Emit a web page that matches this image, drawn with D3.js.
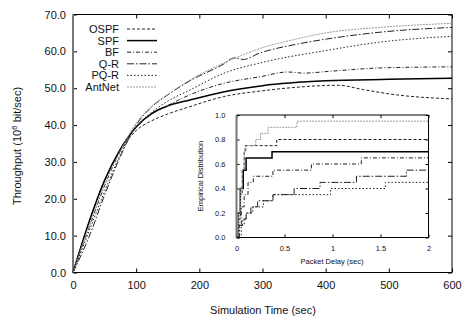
<!DOCTYPE html>
<html>
<head>
<meta charset="utf-8">
<script src="https://cdn.jsdelivr.net/npm/d3@7"></script>
<style>
  body { margin: 0; background: #fff; }
  text { font-family: "Liberation Sans", Arial, sans-serif; fill: #111; }
</style>
</head>
<body>
<svg id="chart"></svg>
<script>
// throughput curves, [time (sec), throughput (10^6 bit/sec)]
var ospf = [[0,0],[25,13.5],[50,25],[75,33],[100,38.5],[125,41.2],[150,43],[185,45],[238,47.7],[300,49.3],[350,50.2],[420,50.8],[460,49.6],[512,48.2],[600,47.1]];
var spf = [[0,0],[25,13.5],[50,25],[75,33.5],[100,39.5],[125,43.2],[150,45.2],[185,46.8],[238,49],[300,50.7],[400,52],[500,52.4],[600,52.7]];
var bf = [[0,0],[25,12],[50,23.5],[75,33],[100,39.5],[125,43],[150,45.3],[185,48.2],[238,51.3],[296,53.1],[340,54.4],[365,54.1],[407,54.6],[486,55.5],[600,55.8]];
var qr = [[0,0],[25,9.5],[50,21],[75,31.5],[100,40],[125,45],[150,48.2],[185,52],[238,56.5],[255,58.2],[270,57.8],[295,59.5],[350,61.8],[400,63.3],[486,65.2],[600,66.5]];
var pqr = [[0,0],[25,11],[50,22],[75,32],[100,39.5],[125,43.5],[150,46.5],[185,49.5],[238,54],[300,57],[400,60.2],[486,62.5],[600,64.1]];
var antnet = [[0,0],[25,12.5],[50,24],[75,33],[100,40.5],[125,45.2],[150,48.3],[185,52.2],[238,56.8],[300,61],[350,63.2],[400,65],[486,66.5],[600,67.6]];

// inset: empirical distribution of packet delay, [delay (sec), probability]
var cdfOSPF = [[0,0],[0.02,0.15],[0.04,0.35],[0.06,0.55],[0.08,0.7],[0.09,0.75],[0.42,0.8],[2,0.8]];
var cdfSPF = [[0,0],[0.02,0.2],[0.04,0.4],[0.07,0.55],[0.1,0.65],[0.37,0.7],[2,0.7]];
var cdfBF = [[0,0],[0.02,0.1],[0.05,0.25],[0.08,0.35],[0.12,0.45],[0.175,0.5],[0.38,0.55],[0.78,0.6],[1.3,0.65],[2,0.65]];
var cdfQR = [[0,0],[0.03,0.1],[0.06,0.15],[0.1,0.2],[0.15,0.25],[0.22,0.3],[0.38,0.35],[0.6,0.4],[0.87,0.45],[1.25,0.5],[1.77,0.55],[2,0.55]];
var cdfPQR = [[0,0],[0.05,0.1],[0.08,0.15],[0.1,0.2],[0.17,0.25],[0.28,0.3],[0.38,0.35],[0.98,0.4],[1.55,0.45],[2,0.45]];
var cdfAntNet = [[0,0],[0.02,0.2],[0.04,0.4],[0.06,0.55],[0.08,0.7],[0.1,0.75],[0.2,0.8],[0.25,0.85],[0.33,0.9],[0.63,0.95],[2,0.95]];

var names = ["OSPF", "SPF", "BF", "Q-R", "PQ-R", "AntNet"];
var xTicks = [0, 100, 200, 300, 400, 500, 600];
var yTicks = [0, 10, 20, 30, 40, 50, 60, 70];
var insetXTicks = [0, 0.5, 1, 1.5, 2];
var insetYTicks = [0, 0.2, 0.4, 0.6, 0.8, 1.0];

var series = [ospf, spf, bf, qr, pqr, antnet];
var cdfs = [cdfOSPF, cdfSPF, cdfBF, cdfQR, cdfPQR, cdfAntNet];

// line looks, same order as names
var styles = [
  {color: "#222", width: 1, dash: "3,2"},
  {color: "#000", width: 1.5, dash: null},
  {color: "#222", width: 1, dash: "4,2,1,2"},
  {color: "#222", width: 1, dash: "7,2,1.5,2"},
  {color: "#222", width: 1, dash: "1.5,2"},
  {color: "#9a9a9a", width: 1, dash: "2,1"}
];

var svgWidth = 464, svgHeight = 322;
var svg = d3.select("#chart")
    .attr("width", svgWidth)
    .attr("height", svgHeight);

var plotL = 73, plotR = 452, plotT = 14.5, plotB = 272.5;

var x = d3.scaleLinear().domain([0, 600]).range([plotL, plotR]);
var y = d3.scaleLinear().domain([0, 70]).range([plotB, plotT]);

function tickAxis(g) {
  g.select(".domain").remove();
  g.selectAll(".tick line").attr("stroke", "#000");
  g.selectAll(".tick text").style("font-size", "11px").attr("fill", "#111");
}

svg.append("g")
    .attr("transform", "translate(0," + plotB + ")")
    .call(d3.axisBottom(x).tickValues(xTicks).tickSize(-4).tickPadding(9))
    .call(tickAxis);
svg.append("g")
    .attr("transform", "translate(0," + plotT + ")")
    .call(d3.axisTop(x).tickValues(xTicks).tickSize(-4).tickFormat(""))
    .call(tickAxis);
svg.append("g")
    .attr("transform", "translate(" + plotL + ",0)")
    .call(d3.axisLeft(y).tickValues(yTicks).tickSize(-4).tickPadding(7).tickFormat(d3.format(".1f")))
    .call(tickAxis);
svg.append("g")
    .attr("transform", "translate(" + plotR + ",0)")
    .call(d3.axisRight(y).tickValues(yTicks).tickSize(-4).tickFormat(""))
    .call(tickAxis);

// frame
svg.append("path")
    .attr("d", "M" + plotL + "," + plotB + "H" + plotR + "V" + plotT + "H" + plotL)
    .attr("fill", "none").attr("stroke", "#000").attr("stroke-width", 1);
svg.append("line")
    .attr("x1", plotL).attr("x2", plotL).attr("y1", plotT).attr("y2", plotB)
    .attr("stroke", "#777").attr("stroke-width", 2);

var line = d3.line()
    .x(function(d) { return x(d[0]); })
    .y(function(d) { return y(d[1]); })
    .curve(d3.curveMonotoneX);

series.forEach(function(s, i) {
  svg.append("path")
      .datum(s)
      .attr("d", line)
      .attr("fill", "none")
      .attr("stroke", styles[i].color)
      .attr("stroke-width", styles[i].width)
      .attr("stroke-dasharray", styles[i].dash);
});

// legend
names.forEach(function(n, i) {
  var ly = 29 + i * 11.6;
  svg.append("text").text(n)
      .attr("x", 119).attr("y", ly + 4)
      .attr("text-anchor", "end")
      .style("font-size", "11px");
  svg.append("line")
      .attr("x1", 127).attr("x2", 157).attr("y1", ly).attr("y2", ly)
      .attr("stroke", styles[i].color)
      .attr("stroke-width", styles[i].width)
      .attr("stroke-dasharray", styles[i].dash);
});

// axis titles
svg.append("text").text("Simulation Time (sec)")
    .attr("x", 263).attr("y", 314)
    .attr("text-anchor", "middle")
    .style("font-size", "11px");

var yt = svg.append("text")
    .attr("transform", "translate(21,146)rotate(-90)")
    .attr("text-anchor", "middle")
    .style("font-size", "11px");
yt.append("tspan").text("Throughput (10");
yt.append("tspan").text("6").attr("dy", -4).style("font-size", "8px");
yt.append("tspan").text(" bit/sec)").attr("dy", 4);

// inset
var il = 236.5, ir = 428.5, it = 115, ib = 237.5;
var ix = d3.scaleLinear().domain([0, 2]).range([il, ir]);
var iy = d3.scaleLinear().domain([0, 1]).range([ib, it]);

svg.append("rect")
    .attr("x", il).attr("y", it).attr("width", ir - il).attr("height", ib - it)
    .attr("fill", "#fff");

function insetAxis(g) {
  g.select(".domain").remove();
  g.selectAll(".tick line").attr("stroke", "#000");
  g.selectAll(".tick text").style("font-size", "7.5px").attr("fill", "#222");
}

svg.append("g")
    .attr("transform", "translate(0," + ib + ")")
    .call(d3.axisBottom(ix).tickValues(insetXTicks).tickSize(-3).tickPadding(8).tickFormat(d3.format("")))
    .call(insetAxis);
svg.append("g")
    .attr("transform", "translate(0," + it + ")")
    .call(d3.axisTop(ix).tickValues(insetXTicks).tickSize(-3).tickFormat(""))
    .call(insetAxis);
svg.append("g")
    .attr("transform", "translate(" + il + ",0)")
    .call(d3.axisLeft(iy).tickValues(insetYTicks).tickSize(-3).tickPadding(11).tickFormat(d3.format(".1f")))
    .call(insetAxis);
svg.append("g")
    .attr("transform", "translate(" + ir + ",0)")
    .call(d3.axisRight(iy).tickValues(insetYTicks).tickSize(-3).tickFormat(""))
    .call(insetAxis);

var stepLine = d3.line()
    .x(function(d) { return ix(d[0]); })
    .y(function(d) { return iy(d[1]); })
    .curve(d3.curveStepAfter);

cdfs.forEach(function(s, i) {
  svg.append("path")
      .datum(s)
      .attr("d", stepLine)
      .attr("fill", "none")
      .attr("stroke", styles[i].color)
      .attr("stroke-width", styles[i].width)
      .attr("stroke-dasharray", styles[i].dash);
});

svg.append("path")
    .attr("d", "M" + il + "," + ib + "H" + ir + "V" + it + "H" + il)
    .attr("fill", "none").attr("stroke", "#000").attr("stroke-width", 1);
svg.append("line")
    .attr("x1", il).attr("x2", il).attr("y1", it).attr("y2", ib)
    .attr("stroke", "#777").attr("stroke-width", 2);

svg.append("text").text("Packet Delay (sec)")
    .attr("x", 332).attr("y", 264)
    .attr("text-anchor", "middle")
    .style("font-size", "7.5px");
svg.append("text").text("Empirical Distribution")
    .attr("transform", "translate(203,176)rotate(-90)")
    .attr("text-anchor", "middle")
    .style("font-size", "7.5px");
</script>
</body>
</html>
